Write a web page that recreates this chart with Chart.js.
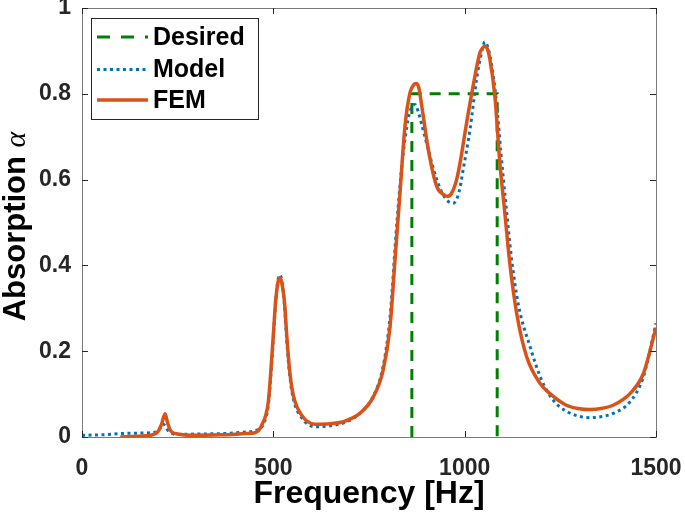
<!DOCTYPE html>
<html>
<head>
<meta charset="utf-8">
<script src="https://cdn.jsdelivr.net/npm/chart.js@4"></script>
<style>
  html, body { margin: 0; padding: 0; background: #fff; }
  #wrap { width: 685px; height: 523px; }
</style>
</head>
<body>
<div id="wrap"><canvas id="absChart" width="685" height="523"></canvas></div>
<script>
// Target absorption (ideal band)
const desiredFreq = [862, 862, 1085, 1085];
const desiredAlpha = [0, 0.8, 0.8, 0];

// Analytical model
const modelFreq = [0, 50, 100, 150, 180, 200, 212, 225, 247, 300, 369, 430, 452, 474, 487, 494, 500, 506, 512, 517,
  522, 529, 535, 542, 552, 574, 609, 648, 690, 726, 761, 787, 805, 822, 838, 852, 862, 870, 878, 896,
  927, 950, 970, 985, 996, 1014, 1031, 1045, 1053, 1060, 1070, 1082, 1095, 1108, 1122, 1140, 1171, 1200,
  1232, 1266, 1300, 1327, 1360, 1388, 1432, 1467, 1500];
const modelAlpha = [0.004, 0.005, 0.008, 0.009, 0.010, 0.015, 0.030, 0.015, 0.006, 0.007, 0.008, 0.012, 0.015, 0.030,
  0.075, 0.150, 0.230, 0.315, 0.365, 0.378, 0.365, 0.310, 0.225, 0.150, 0.090, 0.045, 0.024, 0.026, 0.035,
  0.055, 0.095, 0.165, 0.280, 0.490, 0.650, 0.740, 0.770, 0.775, 0.760, 0.700, 0.600, 0.556, 0.545, 0.570,
  0.623, 0.717, 0.833, 0.900, 0.921, 0.910, 0.870, 0.790, 0.660, 0.540, 0.420, 0.310, 0.210, 0.135,
  0.085, 0.060, 0.048, 0.045, 0.048, 0.055, 0.082, 0.140, 0.265];

// FEM simulation
const femFreq = [100, 150, 180, 198, 208, 217, 224, 232, 250, 300, 370, 430, 452, 470, 487, 494, 500, 506, 512, 517,
  522, 529, 535, 542, 552, 574, 609, 648, 680, 726, 761, 787, 805, 818, 831, 844, 857, 866, 873, 880,
  888, 905, 927, 945, 955, 965, 979, 988, 1005, 1022, 1040, 1048, 1053, 1060, 1066, 1079, 1092, 1105,
  1118, 1136, 1162, 1197, 1223, 1266, 1300, 1327, 1360, 1388, 1432, 1467, 1500];
const femAlpha = [0.000, 0.002, 0.004, 0.012, 0.030, 0.054, 0.032, 0.014, 0.007, 0.004, 0.005, 0.008, 0.010, 0.028,
  0.083, 0.160, 0.238, 0.316, 0.360, 0.371, 0.360, 0.316, 0.238, 0.160, 0.098, 0.051, 0.030, 0.031, 0.035,
  0.055, 0.093, 0.156, 0.257, 0.413, 0.569, 0.724, 0.802, 0.820, 0.824, 0.815, 0.771, 0.670, 0.584, 0.565,
  0.561, 0.567, 0.600, 0.639, 0.732, 0.818, 0.896, 0.908, 0.911, 0.903, 0.880, 0.794, 0.639, 0.522,
  0.405, 0.288, 0.187, 0.125, 0.101, 0.074, 0.066, 0.064, 0.067, 0.074, 0.101, 0.148, 0.255];

const xTicks = [0, 500, 1000, 1500];
const yTicks = [0, 0.2, 0.4, 0.6, 0.8, 1];

const toPoints = (xs, ys) => xs.map((x, i) => ({ x: x, y: ys[i] }));

const AXIS_COLOR = '#262626';
const FONT = '"Liberation Sans", Arial, sans-serif';

// scales must not push the plot area around
function fixPadding(s) {
    s.paddingLeft = 0;
    s.paddingRight = 0;
    s.paddingTop = 0;
    s.paddingBottom = 0;
}

// Legend drawn MATLAB-style inside the axes
const matlabLegend = {
    id: 'matlabLegend',
    afterDraw(chart) {
        const ctx = chart.ctx;
        const area = chart.chartArea;
        const bx = area.left + 9, by = area.top + 10, bw = 167, bh = 101;
        ctx.save();
        ctx.fillStyle = '#fff';
        ctx.fillRect(bx, by, bw, bh);
        ctx.strokeStyle = AXIS_COLOR;
        ctx.lineWidth = 1;
        ctx.strokeRect(bx + 0.5, by + 0.5, bw, bh);

        const rows = [19, 51.5, 82];
        chart.data.datasets.forEach((ds, i) => {
            const y = by + rows[i];
            ctx.beginPath();
            ctx.setLineDash(ds.legendDash || ds.borderDash || []);
            ctx.strokeStyle = ds.borderColor;
            ctx.lineWidth = ds.borderWidth;
            ctx.moveTo(bx + 6, y);
            ctx.lineTo(bx + 57, y);
            ctx.stroke();
            ctx.setLineDash([]);
            ctx.fillStyle = '#000';
            ctx.font = 'bold 25px ' + FONT;
            ctx.textBaseline = 'middle';
            ctx.textAlign = 'left';
            ctx.fillText(ds.label, bx + 62, y + 1);
        });
        ctx.restore();
    }
};

// Box frame, inward tick marks and the y label with an italic alpha
const matlabBox = {
    id: 'matlabBox',
    afterDatasetsDraw(chart) {
        const ctx = chart.ctx;
        const a = chart.chartArea;
        const xs = chart.scales.x, ys = chart.scales.y;
        ctx.save();
        ctx.strokeStyle = '#7a7a7a';
        ctx.lineWidth = 1;
        ctx.strokeRect(Math.round(a.left) + 0.5, Math.round(a.top) + 0.5,
            Math.round(a.right - a.left), Math.round(a.bottom - a.top));
        ctx.strokeStyle = AXIS_COLOR;
        ctx.beginPath();
        xTicks.forEach(v => {
            const px = Math.round(xs.getPixelForValue(v)) + 0.5;
            ctx.moveTo(px, a.bottom); ctx.lineTo(px, a.bottom - 6);
            ctx.moveTo(px, a.top); ctx.lineTo(px, a.top + 6);
        });
        yTicks.forEach(v => {
            const py = Math.round(ys.getPixelForValue(v)) + 0.5;
            ctx.moveTo(a.left, py); ctx.lineTo(a.left + 6, py);
            ctx.moveTo(a.right, py); ctx.lineTo(a.right - 6, py);
        });
        ctx.stroke();

        // y axis title
        const main = 'Absorption ';
        const greek = 'α';
        const fMain = 'bold 31px ' + FONT;
        const fGreek = 'italic 30px "Liberation Serif", "DejaVu Serif", serif';
        ctx.font = fMain;
        const w1 = ctx.measureText(main).width;
        ctx.font = fGreek;
        const w2 = ctx.measureText(greek).width;
        ctx.translate(25, (a.top + a.bottom) / 2 + 4);
        ctx.rotate(-Math.PI / 2);
        ctx.fillStyle = '#000';
        ctx.textBaseline = 'alphabetic';
        ctx.textAlign = 'left';
        const start = -(w1 + w2) / 2;
        ctx.font = fMain;
        ctx.fillText(main, start, 0);
        ctx.font = fGreek;
        ctx.fillText(greek, start + w1, 0);
        ctx.restore();
    }
};

new Chart(document.getElementById('absChart'), {
    type: 'line',
    data: {
        datasets: [
            {
                label: 'Desired',
                data: toPoints(desiredFreq, desiredAlpha),
                borderColor: '#008000',
                borderWidth: 3,
                borderDash: [11, 8],
                legendDash: [13, 11],
                tension: 0,
                order: 3
            },
            {
                label: 'Model',
                data: toPoints(modelFreq, modelAlpha),
                borderColor: '#0072BD',
                borderWidth: 3,
                borderDash: [3, 3.5],
                cubicInterpolationMode: 'monotone',
                order: 2
            },
            {
                label: 'FEM',
                data: toPoints(femFreq, femAlpha),
                borderColor: '#D95319',
                borderWidth: 3.5,
                cubicInterpolationMode: 'monotone',
                order: 1
            }
        ]
    },
    options: {
        responsive: false,
        animation: false,
        layout: { padding: { top: 8, right: 29, left: 0, bottom: 0 } },
        elements: { point: { radius: 0 } },
        plugins: {
            legend: { display: false },
            tooltip: { enabled: false }
        },
        scales: {
            x: {
                type: 'linear',
                min: 0,
                max: 1500,
                afterFit: (s) => { s.height = 86; fixPadding(s); },
                afterBuildTicks: (s) => { s.ticks = xTicks.map(v => ({ value: v })); },
                grid: { display: false, drawTicks: false },
                border: { display: false },
                ticks: {
                    padding: 18,
                    color: AXIS_COLOR,
                    font: { family: FONT, size: 23, weight: 'bold' },
                    maxRotation: 0,
                    callback: (v) => String(v)
                },
                title: {
                    display: true,
                    text: 'Frequency [Hz]',
                    color: '#000',
                    font: { family: FONT, size: 32, weight: 'bold', lineHeight: 1 },
                    padding: { top: 0, bottom: 13 }
                }
            },
            y: {
                min: 0,
                max: 1,
                afterFit: (s) => { s.width = 82; fixPadding(s); },
                afterBuildTicks: (s) => { s.ticks = yTicks.map(v => ({ value: v })); },
                grid: { display: false, drawTicks: false },
                border: { display: false },
                ticks: {
                    padding: 11,
                    color: AXIS_COLOR,
                    font: { family: FONT, size: 23, weight: 'bold' },
                    callback: (v) => String(+v.toFixed(1))
                },
                title: { display: false }
            }
        }
    },
    plugins: [matlabBox, matlabLegend]
});
</script>
</body>
</html>
